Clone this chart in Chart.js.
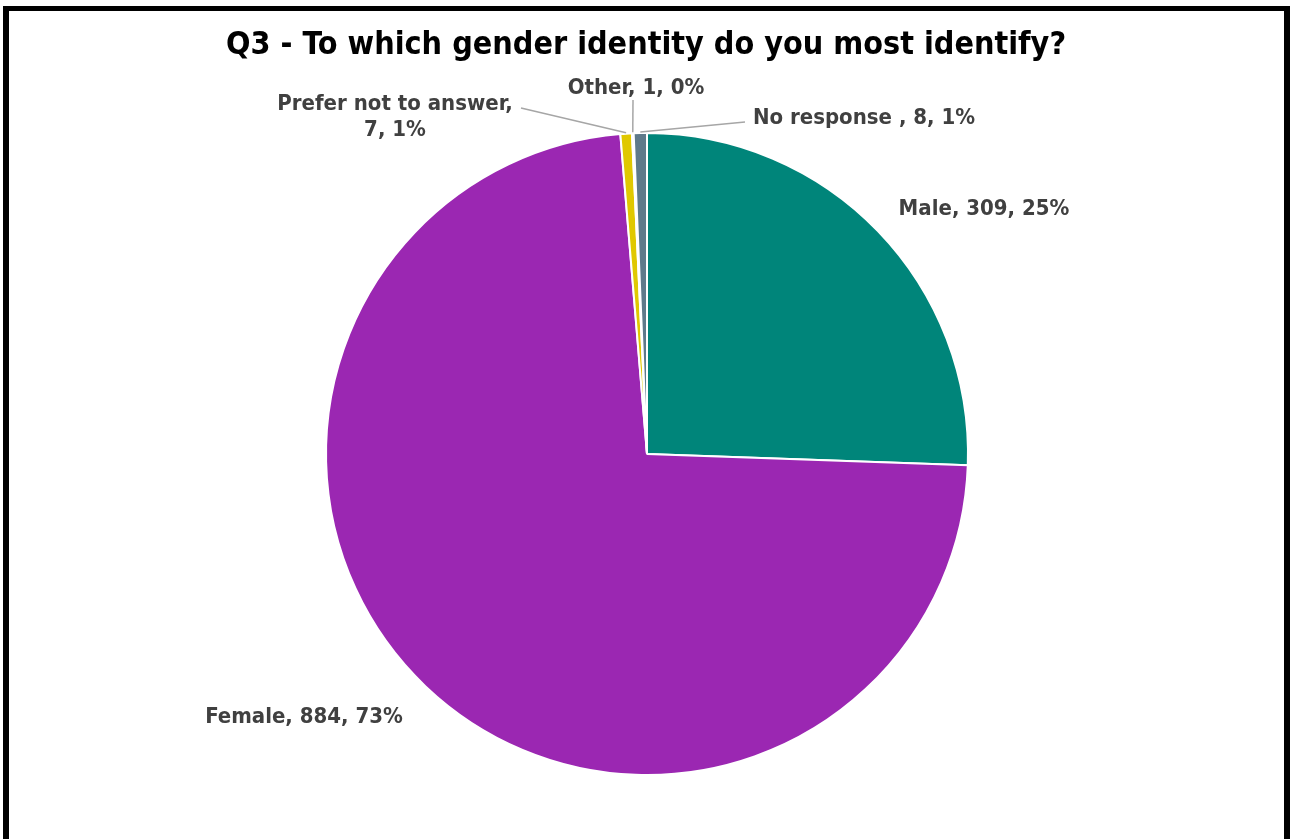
<!DOCTYPE html>
<html>
<head>
<meta charset="utf-8">
<title>Q3 gender identity</title>
<script src="https://cdn.jsdelivr.net/npm/chart.js@4.4.1/dist/chart.umd.min.js"></script>
<style>
  html, body { margin: 0; padding: 0; background: #fff; overflow: hidden; }
  #frame {
    position: absolute; left: 3px; top: 6px;
    width: 1275px; height: 900px;
    border-style: solid; border-color: #000;
    border-width: 5px 6px 0 6px;
  }
  #genderChart { position: absolute; left: 0; top: 0; }
</style>
</head>
<body>
<div id="frame"></div>
<canvas id="genderChart" width="1290" height="839"></canvas>
<script>
const chartTitle = 'Q3 - To which gender identity do you most identify?';
const categories = ['Male', 'Female', 'Prefer not to answer', 'Other', 'No response '];
const responses = [309, 884, 7, 1, 8];
const percentLabels = ['25%', '73%', '1%', '0%', '1%'];
const sliceColors = ['#00857A', '#9B27B2', '#E0C800', '#A5A5A5', '#5F7A8A'];

const LABEL_FONT = 'bold 22px "DejaVu Sans Condensed", "DejaVu Sans", sans-serif';
const TITLE_FONT = 'bold 32px "DejaVu Sans Condensed", "DejaVu Sans", sans-serif';

// label baselines as offsets from the pie centre, leader start where one is drawn
const labelSpots = [
    { dx: 337, dy: -239 },
    { dx: -343, dy: 269 },
    { dx: -252, dy: -344, wrap: true, leader: [-126, -346] },
    { dx: -11, dy: -360, leader: [-14, -354] },
    { dx: 217, dy: -330, leader: [98, -332] }
];

const sliceLabels = {
    id: 'sliceLabels',
    afterDatasetsDraw(chart) {
        const ctx = chart.ctx;
        const arcs = chart.getDatasetMeta(0).data;

        ctx.save();
        // title
        ctx.font = TITLE_FONT;
        ctx.fillStyle = '#000';
        ctx.textAlign = 'center';
        ctx.textBaseline = 'alphabetic';
        ctx.fillText(chartTitle, 646, 54);

        ctx.font = LABEL_FONT;
        ctx.fillStyle = '#404040';
        ctx.strokeStyle = '#A6A6A6';
        ctx.lineWidth = 1.5;

        arcs.forEach((arc, i) => {
            const { x, y, outerRadius, startAngle, endAngle } =
                arc.getProps(['x', 'y', 'outerRadius', 'startAngle', 'endAngle'], true);
            const spot = labelSpots[i];
            const mid = (startAngle + endAngle) / 2;

            if (spot.leader) {
                ctx.beginPath();
                ctx.moveTo(x + spot.leader[0], y + spot.leader[1]);
                ctx.lineTo(x + Math.cos(mid) * (outerRadius + 1), y + Math.sin(mid) * (outerRadius + 1));
                ctx.stroke();
            }

            const lines = spot.wrap
                ? [categories[i] + ',', responses[i] + ', ' + percentLabels[i]]
                : [categories[i] + ', ' + responses[i] + ', ' + percentLabels[i]];
            lines.forEach((t, k) => ctx.fillText(t, x + spot.dx, y + spot.dy + k * 26));
        });
        ctx.restore();
    }
};

new Chart(document.getElementById('genderChart'), {
    type: 'pie',
    data: {
        labels: categories,
        datasets: [{
            data: responses,
            backgroundColor: sliceColors,
            borderColor: '#ffffff',
            borderWidth: 2
        }]
    },
    options: {
        responsive: false,
        animation: false,
        devicePixelRatio: 1,
        layout: { padding: { top: 132, bottom: 63, left: 325, right: 321 } },
        plugins: {
            legend: { display: false },
            tooltip: { enabled: false },
            title: { display: false }
        }
    },
    plugins: [sliceLabels]
});
</script>
</body>
</html>
